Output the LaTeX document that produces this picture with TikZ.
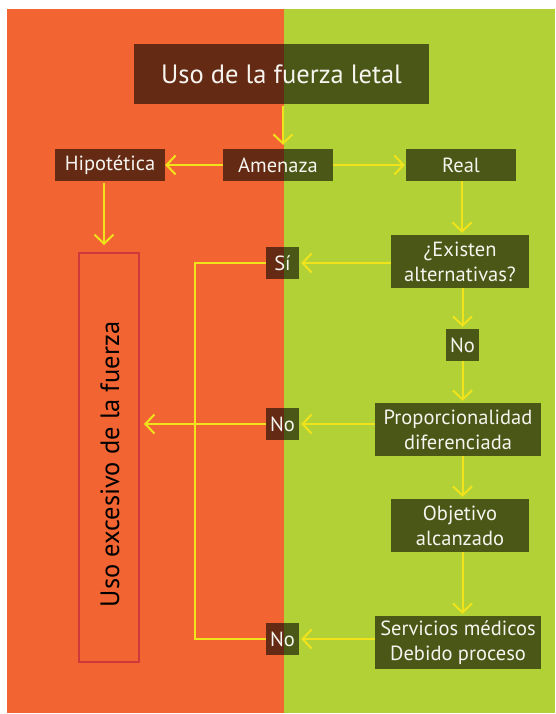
\documentclass[tikz,border=0pt]{standalone}
\usepackage{fontspec}
\setmainfont{PT Sans}
\usetikzlibrary{arrows.meta,calc}
\definecolor{bgor}{HTML}{F26532}
\definecolor{bggr}{HTML}{B1D136}
\definecolor{arr}{HTML}{F0E31B}
\definecolor{redb}{HTML}{D0393B}
\definecolor{txt}{HTML}{F6F4EE}
\begin{document}
\begin{tikzpicture}[x=1pt,y=-1pt,
  box/.style={fill=black, fill opacity=0.58, text opacity=1, text=txt, inner sep=0pt, align=center,
    font=\fontsize{20.5}{25}\selectfont},
  conn/.style={draw=arr, line width=2pt, -{Straight Barb[length=9pt,width=19pt]}, shorten >=2pt},
  plain/.style={draw=arr, line width=2pt},
  ]
\useasboundingbox (0,0) rectangle (555,714);
\fill[white] (0,0) rectangle (555,714);
\fill[bgor] (7,9) rectangle (284,713);
\fill[bggr] (284,9) rectangle (555,713);

\node[box, minimum width=295pt, minimum height=60pt, font=\fontsize{26.5}{30}\selectfont] (title) at (281.5,74) {Uso de la fuerza letal};
\node[box, minimum width=110pt, minimum height=32pt] (hipo) at (110,165) {Hipotética};
\node[box, minimum width=110pt, minimum height=32pt] (amen) at (278,165) {Amenaza};
\node[box, minimum width=110pt, minimum height=32pt] (real) at (461,165) {Real};
\node[box, minimum width=138pt, minimum height=53pt] (exist) at (460,261.5) {¿Existen\\alternativas?};
\node[box, minimum width=33pt, minimum height=32pt] (no1) at (462.5,345) {No};
\node[box, minimum width=166pt, minimum height=53pt] (prop) at (458,429.5) {Proporcionalidad\\diferenciada};
\node[box, minimum width=138pt, minimum height=53pt] (obj) at (460,525.5) {Objetivo\\alcanzado};
\node[box, minimum width=166pt, minimum height=53pt] (serv) at (458,642.5) {Servicios médicos\\Debido proceso};
\node[box, minimum width=33pt, minimum height=32pt] (si) at (282.5,263) {Sí};
\node[box, minimum width=33pt, minimum height=32pt] (nomid) at (282.5,424) {No};
\node[box, minimum width=33pt, minimum height=32pt] (nobot) at (282.5,639) {No};

\node[draw=redb, line width=2pt, minimum width=60pt, minimum height=409pt, inner sep=0pt] (red) at (109,457.5) {};
\node[rotate=90, inner sep=0pt, font=\fontsize{26.5}{30}\selectfont, text=black] (redtxt) at (110,464.5) {Uso excesivo de la fuerza};

\draw[conn, shorten <=2pt, shorten >=4pt] ([xshift=1.5pt]title.south) -- ([xshift=1.5pt]title.south |- amen.north);
\draw[conn, shorten >=0pt] (amen.west) -- (hipo.east);
\draw[conn, shorten >=1pt] (amen.east) -- (real.west);
\draw[conn, shorten <=2pt, shorten >=7pt] ([xshift=-6pt]hipo.south) -- ([xshift=-6pt]hipo.south |- red.north);
\draw[conn] ([xshift=1pt]real.south) -- ([xshift=1pt]real.south |- exist.north);
\draw[conn] (exist.south -| no1) -- (no1.north);
\draw[conn] (no1.south) -- (no1.south |- prop.north);
\draw[conn] (prop.south -| no1) -- (obj.north -| no1);
\draw[conn] (obj.south -| no1) -- (serv.north -| no1);
\draw[conn] (exist.west |- si) -- (si.east);
\draw[conn] (prop.west |- nomid) -- (nomid.east);
\draw[conn] (serv.west |- nobot) -- (nobot.east);
\draw[conn, shorten >=4pt] (nomid.west) -- (red.east |- nomid);
\draw[plain] (si.west) -- ++(-71,0) |- (nobot.west);
\end{tikzpicture}
\end{document}
